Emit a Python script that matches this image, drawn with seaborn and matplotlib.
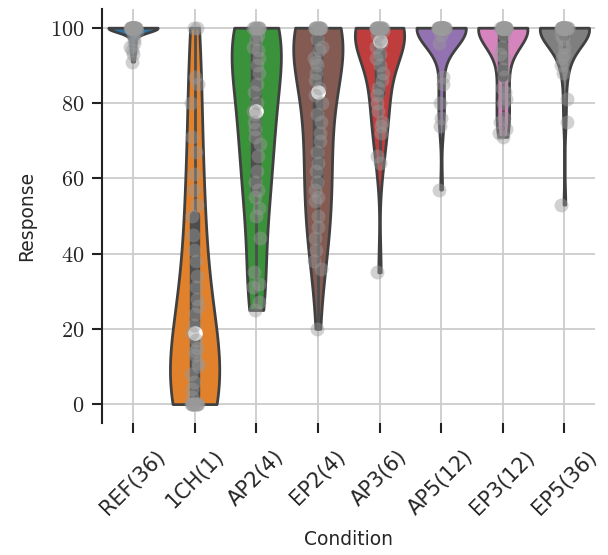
import numpy as np
import matplotlib
matplotlib.use('Agg')
import matplotlib.pyplot as plt
import pandas as pd
import seaborn as sns

# Conditions (x axis) and per-condition responses
conditions = ['REF(36)', '1CH(1)', 'AP2(4)', 'EP2(4)', 'AP3(6)', 'AP5(12)', 'EP3(12)', 'EP5(36)']
colors = ['#1f77b4', '#ff7f0e', '#2ca02c', '#8c564b', '#d62728', '#9467bd', '#e377c2', '#7f7f7f']

ref = [100] * 26 + [99, 98, 97, 96, 95, 94, 93, 91]
ch1 = [0] * 10 + [2, 4, 6, 8, 10, 11, 13, 14, 15, 17, 19, 21, 24, 26, 28, 31, 34, 38, 41,
                  45, 50, 53, 57, 61, 67, 71, 80, 85, 87, 100, 100]
ap2 = [100] * 8 + [98, 97, 95, 94, 92, 90, 88, 85, 83, 80, 78, 77, 75, 73, 71, 69, 66, 62,
                   59, 57, 55, 52, 50, 44, 35, 32, 31, 27, 25]
ep2 = [100] * 11 + [97, 95, 94, 92, 91, 90, 88, 86, 84, 82, 80, 77, 75, 72, 70, 67, 64, 62,
                    59, 57, 55, 54, 50, 47, 44, 41, 38, 36, 20]
ap3 = [100] * 14 + [99, 98, 97, 96, 95, 93, 92, 90, 88, 86, 84, 82, 80, 78, 75, 74, 72, 66, 64, 35]
ap5 = [100] * 26 + [98, 96, 87, 85, 80, 76, 74, 57]
ep3 = [100] * 22 + [98, 95, 93, 92, 89, 87, 84, 83, 81, 80, 76, 75, 73, 72, 71]
ep5 = [100] * 26 + [98, 97, 95, 93, 92, 90, 88, 81, 75, 53]

values = [ref, ch1, ap2, ep2, ap3, ap5, ep3, ep5]
df = pd.DataFrame({
    'Condition': np.repeat(conditions, [len(v) for v in values]),
    'Response': np.concatenate(values).astype(float),
})

sns.set_style('whitegrid')
plt.rcParams['font.family'] = ['DejaVu Sans']
plt.rcParams['mathtext.fontset'] = 'cm'

fig = plt.figure(figsize=(6.08, 5.55), dpi=100)
ax = fig.add_axes([0.168, 0.238, 0.811, 0.746])

sns.violinplot(data=df, x='Condition', y='Response', hue='Condition', order=conditions,
               hue_order=conditions, palette=colors, cut=0, density_norm='width',
               inner='box', linewidth=2, linecolor='.25', legend=False, ax=ax,
               inner_kws=dict(box_width=7.5, whis_width=2, marker='o', markersize=9,
                              color='.3'))
sns.stripplot(data=df, x='Condition', y='Response', order=conditions, color='#9a9a9a',
              alpha=0.45, size=10, jitter=0.06, linewidth=0, zorder=3, ax=ax)

ax.grid(True, color='#cccccc', linewidth=1.3)
ax.set_axisbelow(True)
sns.despine(ax=ax, bottom=True)
ax.spines['left'].set_color('#222222')
ax.spines['left'].set_linewidth(1.5)

yt = [0, 20, 40, 60, 80, 100]
ax.set_yticks(yt)
ax.set_yticklabels([f'${v}$' for v in yt], fontsize=16)
ax.set_xticks(range(len(conditions)))
ax.set_xticklabels(conditions, rotation=45, ha='center', fontsize=15)
ax.tick_params(axis='both', direction='out', length=7, width=1.5, color='#222222')
ax.tick_params(axis='x', bottom=True, pad=10)
ax.tick_params(axis='y', left=True, pad=6)
ax.set_ylim(-5, 105)
ax.set_xlabel('Condition', fontsize=13.5, labelpad=8)
ax.set_ylabel('Response', fontsize=13.5, labelpad=10)

fig.savefig('out.png', dpi=100)
